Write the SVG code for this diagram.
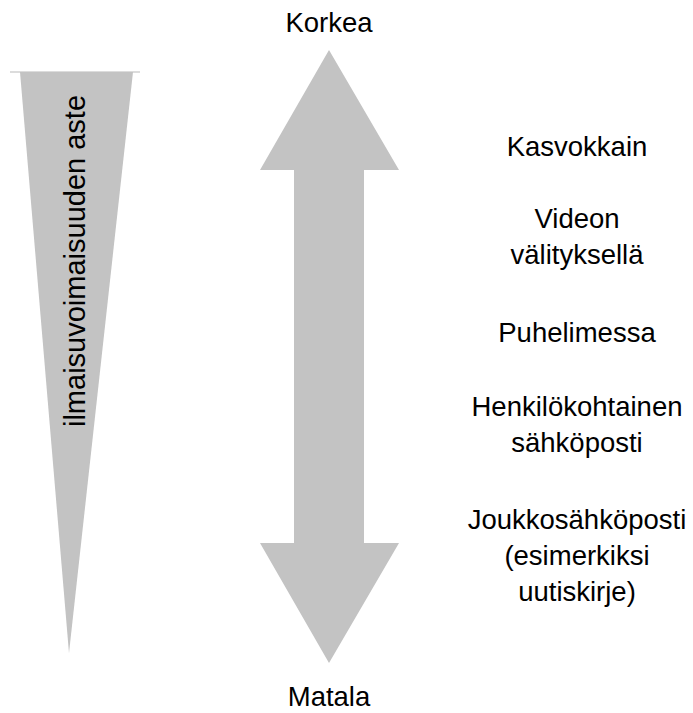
<svg xmlns="http://www.w3.org/2000/svg" width="693" height="713" viewBox="0 0 693 713">
<style>
.t{font-family:"Liberation Sans",Arial,sans-serif;font-size:27.5px;fill:#000;text-anchor:middle}
.v{font-size:29px}
.shape{fill:#c3c3c3;stroke:none}
</style>
<rect width="693" height="713" fill="#fff"/>
<g id="wedge">
<line x1="10" y1="72" x2="140" y2="72" stroke="#dcdcdc" stroke-width="2"/>
<polygon class="shape" points="20,72 133,72 69,653"/>
<text class="t v" transform="translate(85,261) rotate(-90)">ilmaisuvoimaisuuden aste</text>
</g>
<g id="arrow">
<polygon class="shape" points="329,50 399,170 364,170 364,543 399,543 329,663 260,543 294,543 294,170 260,170"/>
</g>
<g id="labels">
<text id="korkea" class="t" x="329" y="32">Korkea</text>
<text id="matala" class="t" x="329" y="706">Matala</text>
<text id="kasvokkain" class="t" x="577" y="156">Kasvokkain</text>
<text id="video" class="t" x="577" y="228">Videon<tspan x="577" dy="36">välityksellä</tspan></text>
<text id="puhelin" class="t" x="577" y="342">Puhelimessa</text>
<text id="henk" class="t" x="577" y="416">Henkilökohtainen<tspan x="577" dy="36">sähköposti</tspan></text>
<text id="joukko" class="t" x="577" y="529">Joukkosähköposti<tspan x="577" dy="36">(esimerkiksi</tspan><tspan x="577" dy="36">uutiskirje)</tspan></text>
</g>
</svg>
